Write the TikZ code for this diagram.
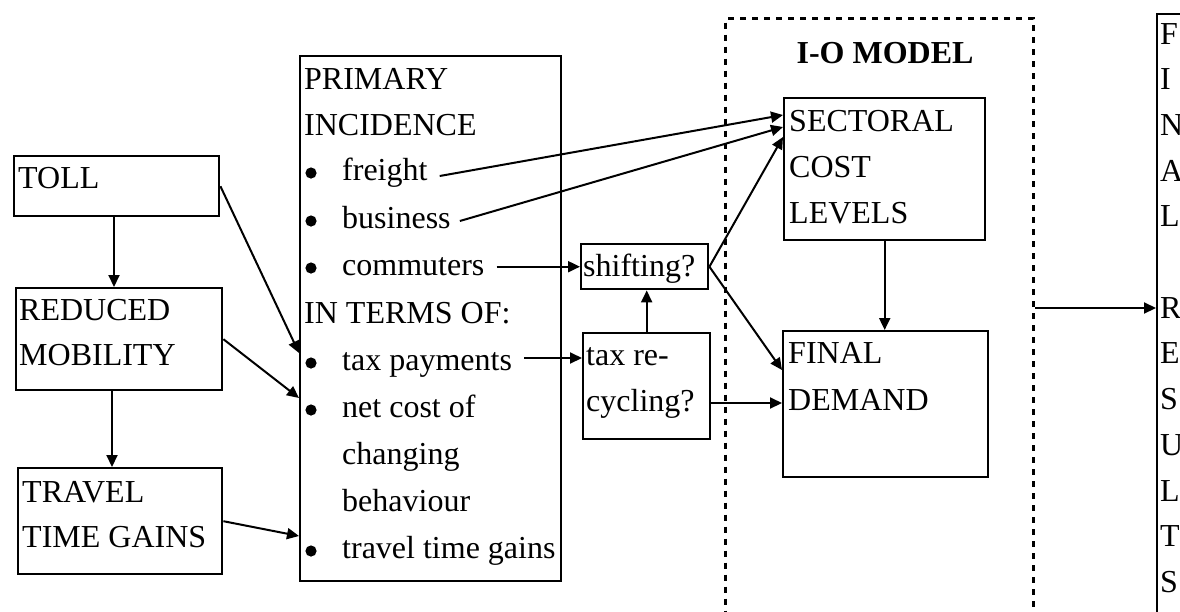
\documentclass[tikz,border=0pt]{standalone}
\usepackage{fontspec}
\setmainfont{Liberation Serif}
\usetikzlibrary{arrows.meta,calc}
\begin{document}
\begin{tikzpicture}[x=1pt,y=-1pt,
  box/.style={draw,line width=2.4pt,rectangle,inner sep=0pt,anchor=north west},
  iobox/.style={draw,line width=3pt,dash pattern=on 6pt off 6pt,rectangle,inner sep=0pt,anchor=north west},
  txt/.style={anchor=base west,inner sep=0pt,font=\fontsize{32}{46}\selectfont},
  arr/.style={-{Triangle[length=12pt,width=11pt]},line width=2pt},
  ]
\useasboundingbox (0,0) rectangle (1180,611);
\clip (0,0) rectangle (1180,611);

% boxes
\node[box,minimum width=205pt,minimum height=60pt] (toll) at (13,155) {};
\node[box,minimum width=206pt,minimum height=102pt] (red) at (15,287) {};
\node[box,minimum width=204pt,minimum height=106pt] (trav) at (17,467) {};
\node[box,minimum width=261pt,minimum height=525pt] (prim) at (299,55) {};
\node[box,minimum width=127pt,minimum height=45pt] (shift) at (580,243) {};
\node[box,minimum width=127pt,minimum height=106pt] (recyc) at (582,332) {};
\node[iobox,minimum width=308pt,minimum height=640pt] (io) at (724,17) {};
\node[box,minimum width=201pt,minimum height=142pt] (sect) at (783,97) {};
\node[box,minimum width=205pt,minimum height=146pt] (fd) at (782,330) {};
\node[box,minimum width=60pt,minimum height=640pt] (res) at (1156,13) {};

% texts
\node[txt] (tToll) at (18,188) {TOLL};
\node[txt] (tRed1) at (19,320) {REDUCED};
\node[txt] (tRed2) at (19,365) {MOBILITY};
\node[txt] (tTrav1) at (22,502) {TRAVEL};
\node[txt] (tTrav2) at (22,547) {TIME GAINS};

\node[txt] (pA) at (304,89) {PRIMARY};
\node[txt] (pB) at (304,135) {INCIDENCE};
\node[txt] (freight) at (342,180) {freight};
\node[txt] (business) at (342,228) {business};
\node[txt] (commuters) at (342,275) {commuters};
\node[txt] (pC) at (304,323) {IN TERMS OF:};
\node[txt] (taxp) at (342,370) {tax payments};
\node[txt] (pD) at (342,417) {net cost of};
\node[txt] (pE) at (342,464) {changing};
\node[txt] (pF) at (342,511) {behaviour};
\node[txt] (pG) at (342,558) {travel time gains};
\foreach \y in {173,221,268,363,410,551} \fill (311,\y) circle (5.6pt);

\node[txt] (tShift) at (583,276) {shifting?};
\node[txt] (tRec1) at (586,365) {tax re-};
\node[txt] (tRec2) at (586,411) {cycling?};

\node[anchor=base,inner sep=0pt,font=\fontsize{32}{46}\selectfont\bfseries] (tIO) at (885,63) {I-O MODEL};
\node[txt] (tSec1) at (789,131) {SECTORAL};
\node[txt] (tSec2) at (789,177) {COST};
\node[txt] (tSec3) at (789,223) {LEVELS};
\node[txt] (tFd1) at (788,363) {FINAL};
\node[txt] (tFd2) at (788,410) {DEMAND};

\foreach \l/\k in {F/0,I/1,N/2,A/3,L/4,R/6,E/7,S/8,U/9,L/10,T/11,S/12}
  \node[txt] (r\k) at (1160,{44+45.7*\k}) {\l};

% connectors
\draw[arr] ($(toll.south west)+(101,0)$) -- ($(red.north west)+(99,0)$);
\draw[arr] ($(red.south west)+(97,0)$) -- ($(trav.north west)+(95,0)$);
\draw[arr] (toll.east) -- ($(prim.north west)+(0,298)$);
\draw[arr] (red.east) -- ($(prim.north west)+(0,343)$);
\draw[arr] (trav.east) -- ($(prim.north west)+(0,481)$);
\draw[arr] ($(freight.base east)+(12,-4)$) -- ($(sect.north west)+(0,18)$);
\draw[arr] ($(business.base east)+(9,-7)$) -- ($(sect.north west)+(0,30)$);
\path ($(commuters.base east)+(12,0)$) coordinate (c1);
\draw[arr] (c1 |- shift.west) -- (shift.west);
\path ($(recyc.north west)+(0,26)$) coordinate (c3);
\path ($(taxp.base east)+(12,0)$) coordinate (c2);
\draw[arr] (c2 |- c3) -- (c3);
\draw[arr] (recyc.north) -- (recyc.north |- shift.south);
\draw[arr] (shift.east) -- ($(sect.north west)+(0,40)$);
\draw[arr] (shift.east) -- ($(fd.north west)+(0,40)$);
\path ($(recyc.north east)+(0,71)$) coordinate (c4);
\draw[arr] (c4) -- (c4 -| fd.west);
\draw[arr] (sect.south) -- (sect.south |- fd.north);
\path ($(io.north east)+(0,291)$) coordinate (c5);
\draw[arr] (c5) -- (c5 -| res.west);
\end{tikzpicture}
\end{document}
